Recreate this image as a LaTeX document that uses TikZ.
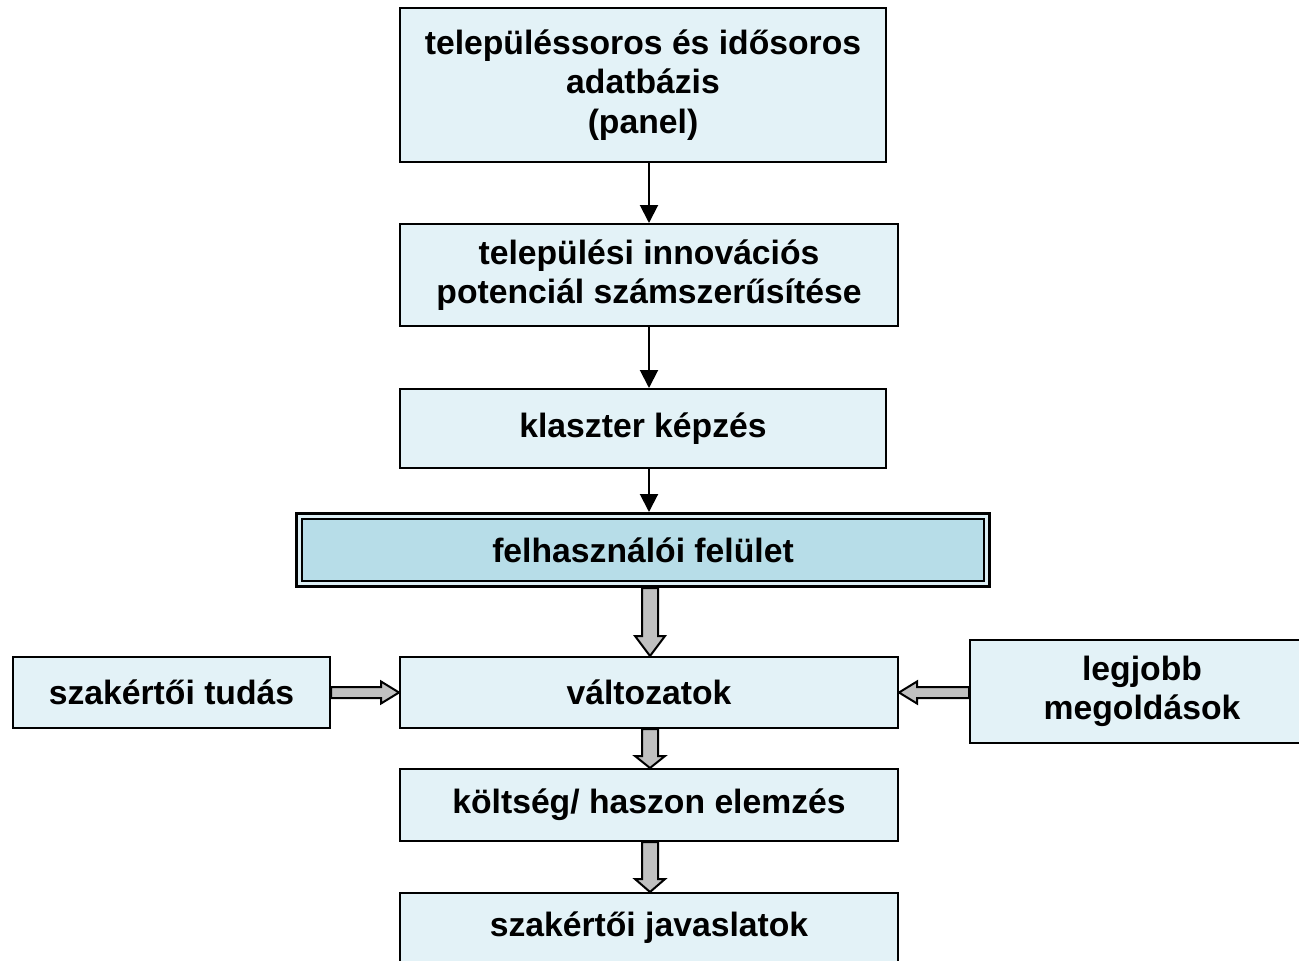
\documentclass[tikz,border=0pt]{standalone}
\usepackage{fontspec}
\setmainfont{Liberation Sans}
\usetikzlibrary{calc,arrows.meta}
\definecolor{boxfill}{HTML}{E3F2F7}
\definecolor{uifill}{HTML}{B7DDE8}
\definecolor{gapfill}{HTML}{DCEEF4}
\definecolor{arrowgrey}{HTML}{C0C0C0}
\begin{document}
\begin{tikzpicture}[x=1pt,y=-1pt,
  box/.style={draw=black, line width=2pt, fill=boxfill, rectangle, align=center,
    inner sep=0pt, font=\fontsize{33.7}{39.5}\selectfont\bfseries},
  thinarrow/.style={draw=black, line width=2pt, -{Triangle[width=18pt,length=18pt]}},
  blockarrow/.style={draw=black, line width=2pt, fill=arrowgrey, line join=miter}]
\useasboundingbox (0,0) rectangle (1299,961);

% nodes
\node[box, minimum width=486, minimum height=154] (b1) at (643,85)
  {településsoros és idősoros\\adatbázis\\(panel)};
\node[box, minimum width=498, minimum height=102] (b2) at (649,275)
  {települési innovációs\\potenciál számszerűsítése};
\node[box, minimum width=486, minimum height=79] (b3) at (643,428.5)
  {klaszter képzés};
% double-framed box
\fill[gapfill] (296.5,513.5) rectangle (989.5,586.5);
\draw[line width=3pt] (296.5,513.5) rectangle (989.5,586.5);
\node[box, fill=uifill, minimum width=682, minimum height=62] (ui) at (643,550)
  {felhasználói felület};
\node[box, minimum width=317, minimum height=71] (ts) at (171.5,692.5)
  {szakértői tudás};
\node[box, minimum width=498, minimum height=71] (v) at (649,692.5)
  {változatok};
\node[box, minimum width=344, minimum height=103] (lm) at (1142,691.5)
  {legjobb\\megoldások};
\node[box, minimum width=498, minimum height=72] (kh) at (649,805)
  {költség/ haszon elemzés};
\node[box, minimum width=498, minimum height=70] (jv) at (649,928)
  {szakértői javaslatok};

% thin arrows
\draw[thinarrow] (b1.south -| b2.north) -- (b2.north);
\draw[thinarrow] (b2.south) -- (b3.north -| b2.south);
\draw[thinarrow] (b3.south -| b2.south) -- ($(ui.north -| b2.south)+(0,-6)$);

% grey block arrows (vertical)
\coordinate (s1) at ($(ui.south)+(7,6)$);
\coordinate (e1) at (v.north);
\filldraw[blockarrow] ($(s1)+(-8,0)$) -- ($(s1 |- e1)+(-8,-20)$) -- ($(s1 |- e1)+(-15,-20)$)
  -- (s1 |- e1) -- ($(s1 |- e1)+(15,-20)$) -- ($(s1 |- e1)+(8,-20)$) -- ($(s1)+(8,0)$) -- cycle;

\coordinate (s2) at ($(v.south)+(1,0)$);
\coordinate (e2) at (s2 |- kh.north);
\filldraw[blockarrow] ($(s2)+(-8,0)$) -- ($(e2)+(-8,-12)$) -- ($(e2)+(-15,-12)$)
  -- (e2) -- ($(e2)+(15,-12)$) -- ($(e2)+(8,-12)$) -- ($(s2)+(8,0)$) -- cycle;

\coordinate (s3) at ($(kh.south)+(1,0)$);
\coordinate (e3) at (s3 |- jv.north);
\filldraw[blockarrow] ($(s3)+(-8,0)$) -- ($(e3)+(-8,-13)$) -- ($(e3)+(-15,-13)$)
  -- (e3) -- ($(e3)+(15,-13)$) -- ($(e3)+(8,-13)$) -- ($(s3)+(8,0)$) -- cycle;

% grey block arrows (horizontal)
\coordinate (s4) at (ts.east);
\coordinate (e4) at (v.west);
\filldraw[blockarrow] ($(s4)+(0,-5.5)$) -- ($(e4)+(-18,-5.5)$) -- ($(e4)+(-18,-11)$)
  -- (e4) -- ($(e4)+(-18,11)$) -- ($(e4)+(-18,5.5)$) -- ($(s4)+(0,5.5)$) -- cycle;

\coordinate (s5) at (lm.west |- v.east);
\coordinate (e5) at (v.east);
\filldraw[blockarrow] ($(s5)+(0,-5.5)$) -- ($(e5)+(18,-5.5)$) -- ($(e5)+(18,-11)$)
  -- (e5) -- ($(e5)+(18,11)$) -- ($(e5)+(18,5.5)$) -- ($(s5)+(0,5.5)$) -- cycle;
\end{tikzpicture}
\end{document}
